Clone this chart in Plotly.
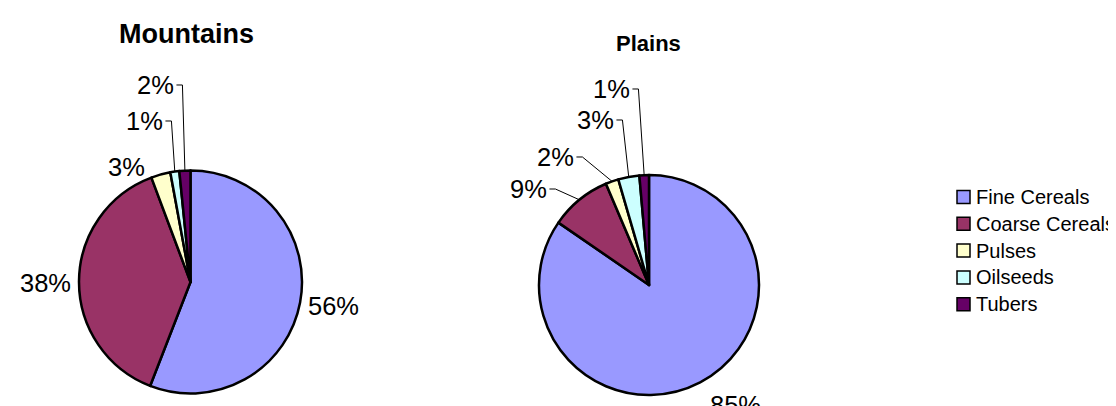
import math
import plotly.graph_objects as go

# ---------------- data ----------------
categories = ["Fine Cereals", "Coarse Cereals", "Pulses", "Oilseeds", "Tubers"]
mountains_values = [55.9, 38.4, 2.8, 1.3, 1.6]
plains_values = [84.6, 9.0, 1.9, 3.1, 1.4]
chart_titles = ["Mountains", "Plains"]

# ---------------- style / layout ----------------
colors = ["#9999FF", "#993366", "#FFFFCC", "#CCFFFF", "#660066"]
W, H = 1116, 406
FONT = "Liberation Sans, Arial, sans-serif"
LABEL_SIZE = 25.5
LEGEND_SIZE = 20
LEGEND_BOX_X = 949
LEGEND_TEXT_X = 966
LEGEND_Y0 = 189
LEGEND_STEP = 26.8
LEGEND_BOX = 13

pies = [
    dict(values=mountains_values, title=chart_titles[0], cx=182.5, cy=274, r=111.5,
         title_xy=(178, 26), title_size=27,
         label_xy=[(325, 298), (37.5, 275), (118, 159), (136, 113), (147, 77)]),
    dict(values=plains_values, title=chart_titles[1], cx=641, cy=277, r=110,
         title_xy=(640, 35), title_size=22,
         label_xy=[(727, 397), (520, 181), (547, 149), (587, 112), (603, 81)]),
]


def px(x):
    return x / W


def py(y):
    return 1 - y / H


fig = go.Figure()
annotations = []
shapes = []

for i, p in enumerate(pies):
    cx, cy, r = p["cx"], p["cy"], p["r"]
    fig.add_trace(go.Pie(
        labels=categories,
        values=p["values"],
        sort=False,
        direction="clockwise",
        rotation=0,
        textinfo="none",
        hoverinfo="label+percent",
        marker=dict(colors=colors, line=dict(color="black", width=2.5)),
        domain=dict(x=[px(cx - r), px(cx + r)], y=[py(cy + r), py(cy - r)]),
        showlegend=False,
    ))
    annotations.append(dict(
        text="<b>%s</b>" % p["title"], x=px(p["title_xy"][0]), y=py(p["title_xy"][1]),
        xref="paper", yref="paper", showarrow=False, xanchor="center", yanchor="middle",
        font=dict(family=FONT, size=p["title_size"], color="black"),
    ))
    total = sum(p["values"])
    cum = 0.0
    for v, (lx, ly) in zip(p["values"], p["label_xy"]):
        frac = v / total
        mid = (cum + frac / 2) * 2 * math.pi
        cum += frac
        ex = cx + r * math.sin(mid)
        ey = cy - r * math.cos(mid)
        pct = int(frac * 100 + 0.5)
        txt = "%d%%" % pct
        annotations.append(dict(
            text=txt, x=px(lx), y=py(ly), xref="paper", yref="paper", showarrow=False,
            xanchor="center", yanchor="middle",
            font=dict(family=FONT, size=LABEL_SIZE, color="black"),
        ))
        half_w = LABEL_SIZE * (0.556 * len(str(pct)) + 0.889) / 2
        sx = lx + half_w + 3 if ex > lx else lx - half_w - 3
        dist = math.hypot(ex - sx, ey - ly)
        if dist > 25:
            hx = sx + 6 if ex > lx else sx - 6
            shapes.append(dict(
                type="path", xref="paper", yref="paper",
                path="M %f %f L %f %f L %f %f" % (px(sx), py(ly), px(hx), py(ly), px(ex), py(ey)),
                line=dict(color="black", width=1),
            ))

# custom legend built from the categories
for k, (cat, col) in enumerate(zip(categories, colors)):
    yc = LEGEND_Y0 + k * LEGEND_STEP
    shapes.append(dict(
        type="rect", xref="paper", yref="paper",
        x0=px(LEGEND_BOX_X), x1=px(LEGEND_BOX_X + LEGEND_BOX),
        y0=py(yc + LEGEND_BOX / 2), y1=py(yc - LEGEND_BOX / 2),
        fillcolor=col, line=dict(color="black", width=1.5),
    ))
    annotations.append(dict(
        text=cat, x=px(LEGEND_TEXT_X), y=py(yc), xref="paper", yref="paper",
        showarrow=False, xanchor="left", yanchor="middle",
        font=dict(family=FONT, size=LEGEND_SIZE, color="black"),
    ))

fig.update_layout(
    width=W, height=H, autosize=False,
    margin=dict(l=0, r=0, t=0, b=0),
    paper_bgcolor="white", plot_bgcolor="white",
    font=dict(family=FONT, color="black"),
    annotations=annotations, shapes=shapes,
    showlegend=False,
)

fig.write_html("out.html")
